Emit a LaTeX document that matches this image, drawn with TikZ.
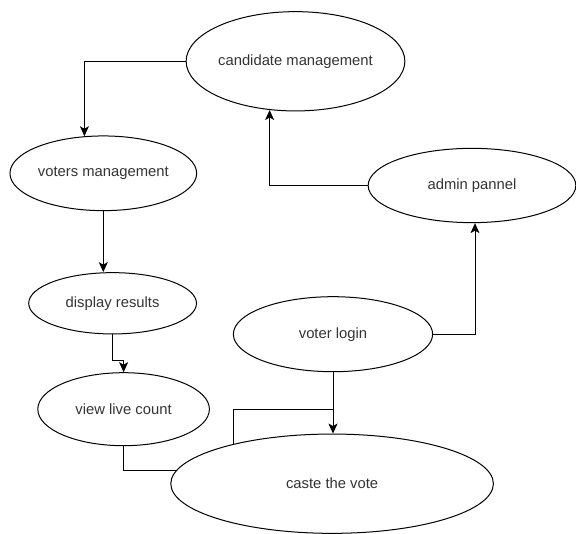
\documentclass[tikz,border=0pt]{standalone}
\usepackage{fontspec}
\setmainfont{Liberation Sans}
\usetikzlibrary{shapes.geometric,arrows.meta,calc}

\begin{document}
\begin{tikzpicture}
    [%%%%%%%%%%%%%%%%%%%%%%%%%%%%%%
        x=1pt,y=-1pt,
        usecase/.style={ellipse,draw=black,line width=1pt,inner sep=0pt,text=black!80,font=\fontsize{14.8}{17}\selectfont},
        link/.style={draw=black,line width=1pt},
        arr/.style={link,-{Stealth[length=10pt,width=9pt,inset=2.5pt]}},
    ]%%%%%%%%%%%%%%%%%%%%%%%%%%%%%%

\useasboundingbox (0,0) rectangle (576,534);

\node[usecase, minimum width=174.4pt, minimum height=99.3pt] (candidate) at (295.5,61.3) {candidate management};
\node[usecase, minimum width=186.7pt, minimum height=74.7pt] (voters) at (103.3,173.3) {voters management};
\node[usecase, minimum width=207.7pt, minimum height=74.3pt] (admin) at (472,185.5) {admin pannel};
\node[usecase, minimum width=167.8pt, minimum height=61.3pt] (display) at (112.6,303.3) {display results};
\node[usecase, minimum width=199.3pt, minimum height=75pt] (login) at (333,334.2) {voter login};
\node[usecase, minimum width=171.6pt, minimum height=73pt] (live) at (123.6,409.2) {view live count};
\node[usecase, minimum width=322.6pt, minimum height=99.3pt] (caste) at (332.1,483.7) {caste the vote};

\coordinate (join) at ($(login.south)!0.6!(login.south |- caste.north)$);

\draw[arr] (candidate.west) -| (voters.117.9);
\draw[arr] (voters.south) -- (voters.south |- display.north);
\draw[arr] (display.south) -- ++(0,26) -| (live.north);
\draw[arr] (admin.west) -| (candidate.242.5);
\draw[arr] (login.east) -| ([xshift=3pt]admin.south);
\draw[arr] (login.south) -- (login.south |- caste.north);
\draw[link] (caste.158.3) |- (join);
\draw[link] (live.south) |- (caste.175.2);
\end{tikzpicture}
\end{document}
